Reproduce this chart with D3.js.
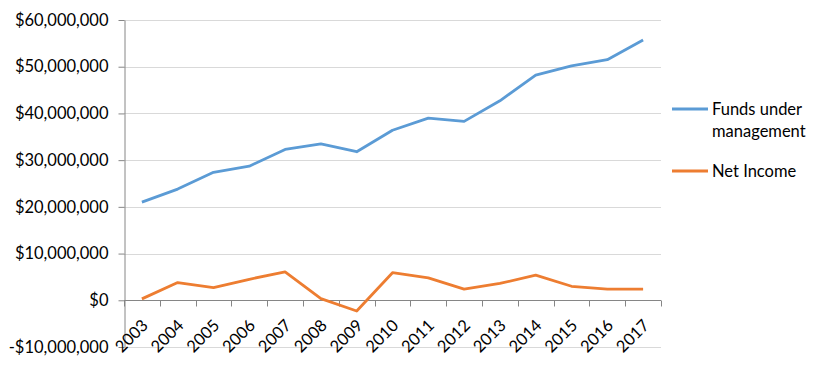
<!DOCTYPE html>
<html>
<head>
<meta charset="utf-8">
<script src="https://cdn.jsdelivr.net/npm/d3@7"></script>
<style>
  body { margin: 0; background: #fff; }
  text { font-family: Lato, "Open Sans", sans-serif; fill: #000; }
</style>
</head>
<body>
<div id="chart"></div>
<script>
// chart values
var years = ["2003", "2004", "2005", "2006", "2007", "2008", "2009", "2010",
             "2011", "2012", "2013", "2014", "2015", "2016", "2017"];
var funds = [21.0, 23.8, 27.4, 28.7, 32.3, 33.5, 31.8, 36.4,
             39.0, 38.3, 42.7, 48.2, 50.2, 51.5, 55.7].map(function (v) { return v * 1e6; });
var netIncome = [0.3, 3.8, 2.7, 4.5, 6.1, 0.35, -2.3, 5.9,
                 4.8, 2.4, 3.6, 5.4, 3.0, 2.4, 2.4].map(function (v) { return v * 1e6; });
var yTicks = [-10e6, 0, 10e6, 20e6, 30e6, 40e6, 50e6, 60e6];
var seriesNames = ["Funds under management", "Net Income"];
var seriesColors = ["#5b9bd5", "#ed7d31"];

var chartW = 832, chartH = 369;
var plotLeft = 124, plotRight = 661, plotTop = 20, plotBottom = 347;
var fontSize = "16.5px";

var svg = d3.select("#chart").append("svg")
    .attr("width", chartW)
    .attr("height", chartH);

var x = d3.scaleBand().domain(years).range([plotLeft, plotRight]);
var y = d3.scaleLinear().domain([-10e6, 60e6]).range([plotBottom, plotTop]);

var fmt = function (v) {
    var s = "$" + d3.format(",")(Math.abs(v));
    return v < 0 ? "-" + s : s;
};

// gridlines
svg.append("g").selectAll("line")
    .data(yTicks)
    .enter().append("line")
    .attr("x1", plotLeft).attr("x2", plotRight)
    .attr("y1", function (d) { return Math.round(y(d)) + 0.5; })
    .attr("y2", function (d) { return Math.round(y(d)) + 0.5; })
    .attr("stroke", "#d9d9d9")
    .attr("stroke-width", 1);

// y axis
var yAxis = svg.append("g")
    .attr("transform", "translate(" + (plotLeft + 0.5) + ",0)")
    .call(d3.axisLeft(y).tickValues(yTicks).tickFormat(fmt).tickSize(6).tickSizeOuter(0));
yAxis.select(".domain").attr("stroke", "#868686");
yAxis.selectAll(".tick line").attr("stroke", "#868686");
yAxis.selectAll(".tick text")
    .attr("x", -16)
    .style("font-size", fontSize)
    .style("font-family", "Lato, 'Open Sans', sans-serif")
    .attr("fill", "#000");

// x axis at zero
var xTickPos = years.map(function (d) { return x(d); }).concat([plotRight]);
var xg = svg.append("g")
    .attr("transform", "translate(0," + (Math.round(y(0)) + 0.5) + ")");
xg.append("line")
    .attr("x1", plotLeft).attr("x2", plotRight)
    .attr("stroke", "#868686");
xg.selectAll(".xtick")
    .data(xTickPos)
    .enter().append("line")
    .attr("x1", function (d) { return Math.round(d) + 0.5; })
    .attr("x2", function (d) { return Math.round(d) + 0.5; })
    .attr("y1", 0).attr("y2", 6)
    .attr("stroke", "#868686");

// rotated year labels
svg.append("g").selectAll("text")
    .data(years)
    .enter().append("text")
    .attr("transform", function (d) {
        var cx = x(d) + x.bandwidth() / 2 + 3;
        return "translate(" + cx + "," + (y(0) + 22) + ") rotate(-45)";
    })
    .attr("text-anchor", "end")
    .attr("dy", "0.35em")
    .style("font-size", fontSize)
    .text(function (d) { return d; });

// lines
var line = d3.line()
    .x(function (d, i) { return x(years[i]) + x.bandwidth() / 2; })
    .y(function (d) { return y(d); });

[funds, netIncome].forEach(function (s, i) {
    svg.append("path")
        .datum(s)
        .attr("fill", "none")
        .attr("stroke", seriesColors[i])
        .attr("stroke-width", 2.8)
        .attr("stroke-linejoin", "round")
        .attr("d", line);
});

// legend
var legend = svg.append("g");
var legendItems = [
    {lines: ["Funds under", "management"], y: 109},
    {lines: ["Net Income"], y: 171}
];
legendItems.forEach(function (item, i) {
    legend.append("line")
        .attr("x1", 672).attr("x2", 708)
        .attr("y1", item.y).attr("y2", item.y)
        .attr("stroke", seriesColors[i])
        .attr("stroke-width", 2.8);
    item.lines.forEach(function (t, j) {
        legend.append("text")
            .attr("x", 712)
            .attr("y", item.y + 6 + j * 22)
            .style("font-size", fontSize)
            .text(t);
    });
});
</script>
</body>
</html>
